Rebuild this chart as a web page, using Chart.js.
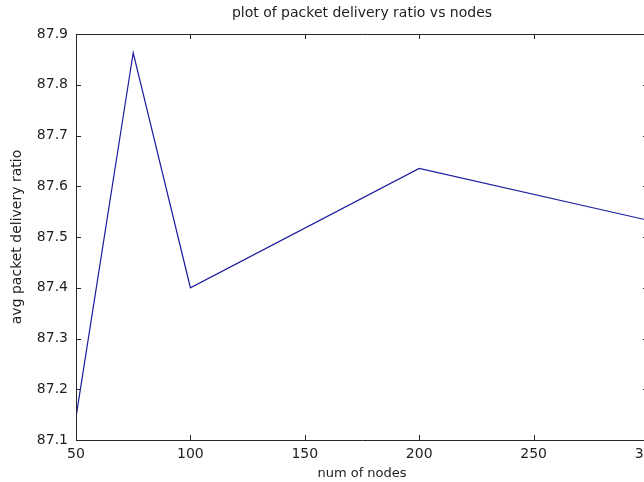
<!DOCTYPE html>
<html>
<head>
<meta charset="utf-8">
<script src="https://cdn.jsdelivr.net/npm/chart.js@4.4.0/dist/chart.umd.min.js"></script>
<style>
  html, body { margin: 0; padding: 0; overflow: hidden; background: #ffffff; width: 644px; height: 482px; }
  #wrap { position: absolute; left: 0; top: 0; width: 700px; height: 482px; }
</style>
</head>
<body>
<div id="wrap"><canvas id="c"></canvas></div>
<script>
// ---- data ----
const nodes = [50, 75, 100, 200, 300];
const deliveryRatio = [87.145, 87.863, 87.40, 87.635, 87.533];
const xTicks = [50, 100, 150, 200, 250, 300];
const yTicks = [87.1, 87.2, 87.3, 87.4, 87.5, 87.6, 87.7, 87.8, 87.9];

const axisColor = '#262626';
const textColor = '#1e1e1e';

const boxAndTicks = {
  id: 'boxAndTicks',
  afterDatasetsDraw(chart) {
    const ctx = chart.ctx;
    const a = chart.chartArea;
    const xs = chart.scales.x, ys = chart.scales.y;
    const L = 5;
    ctx.save();
    ctx.strokeStyle = axisColor;
    ctx.lineWidth = 1;
    ctx.beginPath();
    ctx.rect(Math.round(a.left) + 0.5, Math.round(a.top) + 0.5,
             Math.round(a.right - a.left), Math.round(a.bottom - a.top));
    xs.ticks.forEach((t, i) => {
      const px = Math.round(xs.getPixelForTick(i)) + 0.5;
      ctx.moveTo(px, a.bottom); ctx.lineTo(px, a.bottom - L);
      ctx.moveTo(px, a.top); ctx.lineTo(px, a.top + L);
    });
    ys.ticks.forEach((t, i) => {
      const py = Math.round(ys.getPixelForTick(i)) + 0.5;
      ctx.moveTo(a.left, py); ctx.lineTo(a.left + L, py);
      ctx.moveTo(a.right, py); ctx.lineTo(a.right - L, py);
    });
    ctx.stroke();
    ctx.restore();
  }
};

new Chart(document.getElementById('c'), {
  type: 'line',
  data: {
    datasets: [{
      data: nodes.map((x, i) => ({ x: x, y: deliveryRatio[i] })),
      borderColor: '#1c1c9c',
      borderWidth: 1.2,
      pointRadius: 0,
      tension: 0,
      fill: false
    }]
  },
  options: {
    responsive: true,
    maintainAspectRatio: false,
    animation: false,
    devicePixelRatio: 1,
    layout: { padding: { left: 0, right: 52, top: 0, bottom: 0 } },
    plugins: {
      legend: { display: false },
      tooltip: { enabled: false },
      title: {
        display: true,
        text: 'plot of packet delivery ratio vs nodes',
        fullSize: false,
        color: textColor,
        font: { family: 'DejaVu Sans', size: 14, weight: 'normal' },
        padding: { top: 4.6, bottom: 12.6 }
      }
    },
    scales: {
      x: {
        type: 'linear',
        min: 50, max: 300,
        afterBuildTicks(scale) { scale.ticks = xTicks.map(v => ({ value: v })); },
        afterFit(scale) { scale.height = 42; },
        grid: { display: false, drawTicks: false },
        border: { display: false },
        ticks: {
          color: textColor,
          padding: 6,
          maxRotation: 0,
          autoSkip: false,
          font: { family: 'DejaVu Sans', size: 14 },
          callback: v => String(v)
        },
        title: {
          display: true,
          text: 'num of nodes',
          color: textColor,
          font: { family: 'DejaVu Sans', size: 13 },
          padding: { top: 0, bottom: 1 }
        }
      },
      y: {
        type: 'linear',
        min: 87.1, max: 87.9,
        afterBuildTicks(scale) { scale.ticks = yTicks.map(v => ({ value: v })); },
        afterFit(scale) { scale.width = 76; },
        grid: { display: false, drawTicks: false },
        border: { display: false },
        ticks: {
          color: textColor,
          padding: 8,
          autoSkip: false,
          font: { family: 'DejaVu Sans', size: 14 },
          callback: v => Number(v).toFixed(1)
        },
        title: {
          display: true,
          text: 'avg packet delivery ratio',
          color: textColor,
          font: { family: 'DejaVu Sans', size: 14 },
          padding: { top: 9, bottom: 0 }
        }
      }
    }
  },
  plugins: [boxAndTicks]
});
</script>
</body>
</html>
